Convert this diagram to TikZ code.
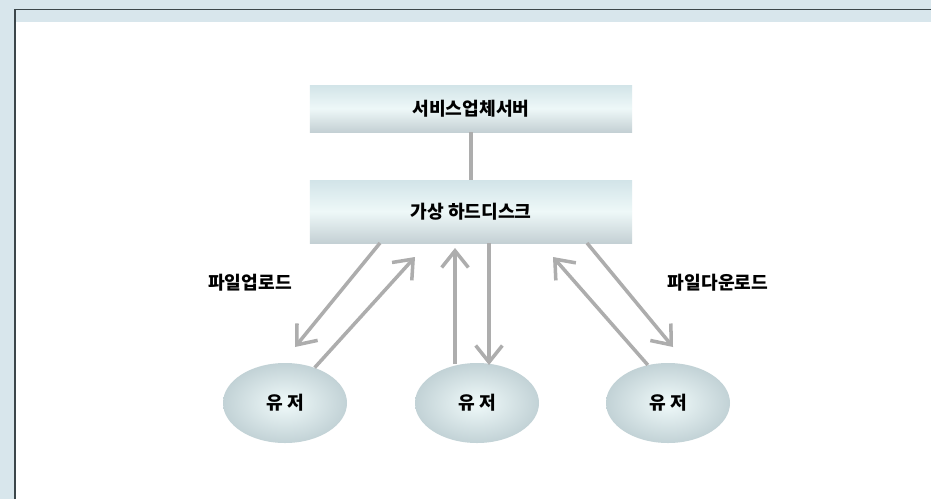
\documentclass[tikz,border=0pt]{standalone}
\usepackage{fontspec}
\newfontfamily\krfont{Noto Sans CJK KR}
\usetikzlibrary{shapes}
\usetikzlibrary{arrows.meta}
\definecolor{framebg}{HTML}{D8E6EC}
\definecolor{frameline}{HTML}{3C464A}
\definecolor{boxtop}{HTML}{D2E4E8}
\definecolor{boxmid}{HTML}{EEF8F8}
\definecolor{boxbot}{HTML}{C4D0D4}
\definecolor{userin}{HTML}{F0FAFA}
\definecolor{userout}{HTML}{C2D2D6}
\definecolor{arrowgray}{HTML}{ADADAD}

\begin{document}
\begin{tikzpicture}[x=0.03cm, y=-0.03cm,
  label/.style={font=\krfont\bfseries\fontsize{15.5}{17}\selectfont},
  bar/.style={label, minimum width=9.66cm, minimum height=#1, inner sep=0pt,
    top color=boxtop, bottom color=boxbot, middle color=boxmid},
  user/.style={label, ellipse, minimum width=3.72cm, minimum height=2.4cm, inner sep=0pt,
    inner color=userin, outer color=userout},
  flow/.style={draw=arrowgray, line width=3pt, -{Straight Barb[length=5mm, width=8mm]}}]
 % frame
 \useasboundingbox (0,0) rectangle (931,499);
 \fill[framebg] (0,0) rectangle (931,499);
 \fill[white] (16,22) rectangle (931,499);
 \draw[frameline, line width=1.2pt] (15,499) -- (15,9.5) -- (931,9.5);

 \node[name=server, bar=1.41cm] at (471,108.5) {서비스업체서버};
 \node[name=disk, bar=1.89cm] at (471,211.5) {가상 하드디스크};
 \node[name=user1, user] at (285,403) {유 저};
 \node[name=user2, user] at (477,403) {유 저};
 \node[name=user3, user] at (668,403) {유 저};

 \node[name=upload, label] at (250,283) {파일업로드};
 \node[name=download, label] at (718,283) {파일다운로드};

 % arrow ends
 \coordinate (leftdown) at (380,243);
 \coordinate (leftdowntip) at (295,347);
 \coordinate (leftuptip) at (415,257);
 \coordinate (midup) at (455,364);
 \coordinate (miduptip) at (455,248);
 \coordinate (middown) at (489,243);
 \coordinate (middowntip) at (489,365);
 \coordinate (rightuptip) at (553,257);
 \coordinate (rightdown) at (587,243);
 \coordinate (rightdowntip) at (673,347);

 \draw[arrowgray, line width=3pt] (server.south) -- (disk.north);
 \draw[flow] (leftdown) -- (leftdowntip);
 \draw[flow] (user1.50) -- (leftuptip);
 \draw[flow] (midup) -- (miduptip);
 \draw[flow] (middown) -- (middowntip);
 \draw[flow] (user3.118) -- (rightuptip);
 \draw[flow] (rightdown) -- (rightdowntip);
\end{tikzpicture}
\end{document}
